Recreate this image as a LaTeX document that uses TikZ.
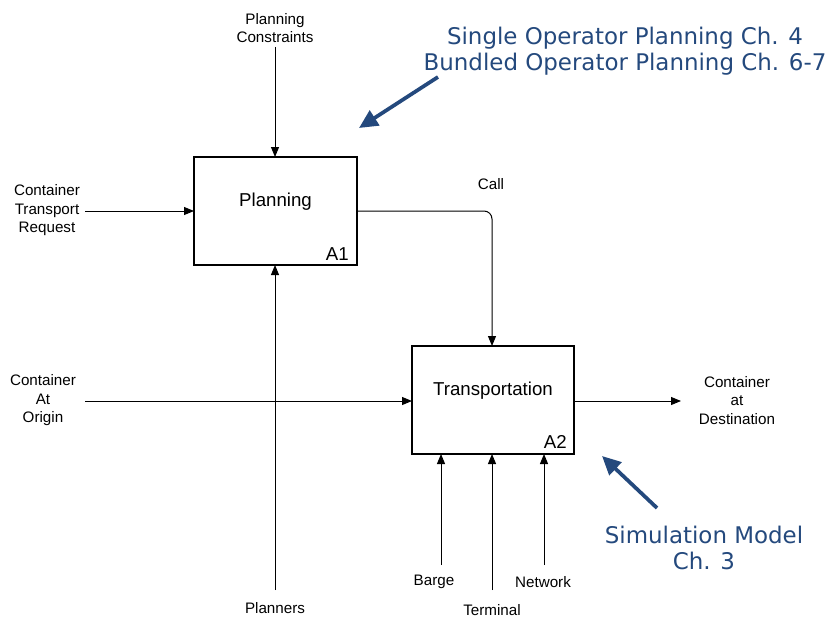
\documentclass[tikz,border=0pt]{standalone}
\usepackage{fontspec}
\setmainfont{Liberation Sans}
\newfontfamily\bluefont{DejaVu Sans}
\usetikzlibrary{arrows.meta}
\definecolor{noteblue}{RGB}{36,73,125}
\begin{document}
\begin{tikzpicture}[x=0.75pt,y=-0.75pt,
  box/.style={draw,line width=0.8pt,inner sep=0pt},
  flow/.style={line width=0.75pt,-{Triangle[length=7.5pt,width=6pt]}},
  lbl/.style={font=\fontsize{11.4}{13.9}\selectfont,align=center,inner sep=0pt},
  title/.style={font=\fontsize{14}{16}\selectfont,inner sep=0pt},
  note/.style={font=\bluefont\fontsize{17.2}{19.5}\selectfont,text=noteblue,align=center,inner sep=0pt},
  notearrow/.style={noteblue,line width=2.8pt,-{Triangle[length=14pt,width=13pt]}}]
\useasboundingbox (0,0) rectangle (830,617);
% boxes
\draw[box] (194,157) rectangle (357,265);
\draw[box] (412,346) rectangle (574,454);
\node[title] (planning) at (275.5,201.5) {Planning};
\node[title] (transp) at (493,390.5) {Transportation};
\node[title,anchor=south east] (a1) at (349,261) {A1};
\node[title,anchor=south east] (a2) at (567,449) {A2};
% labels
\node[lbl] (pc) at (275,28) {Planning\\Constraints};
\node[lbl] (ctr) at (47,210.5) {Container\\Transport\\Request};
\node[lbl] (cao) at (43,400.5) {Container\\At\\Origin};
\node[lbl] (cad) at (737,400.5) {Container\\at\\Destination};
\node[lbl] (call) at (491,184) {Call};
\node[lbl] (planners) at (275,608) {Planners};
\node[lbl] (barge) at (434,582) {Barge};
\node[lbl] (terminal) at (492,610) {Terminal};
\node[lbl] (network) at (543,582) {Network};
% coordinates
\coordinate (pcS) at (275,47);
\coordinate (pcT) at (275,157);
\coordinate (ctrS) at (85,211);
\coordinate (ctrT) at (194,211);
\coordinate (callS) at (357,211);
\coordinate (callC) at (492,211);
\coordinate (callT) at (492,346);
\coordinate (plS) at (275,590);
\coordinate (plT) at (275,265);
\coordinate (caoS) at (85,401);
\coordinate (caoT) at (412,401);
\coordinate (cadS) at (574,401);
\coordinate (cadT) at (681,401);
\coordinate (bS) at (441,565);
\coordinate (bT) at (441,454);
\coordinate (tS) at (492,590);
\coordinate (tT) at (492,454);
\coordinate (nS) at (544,565);
\coordinate (nT) at (544,454);
% flows
\draw[flow] (pcS) -- (pcT);
\draw[flow] (ctrS) -- (ctrT);
\draw[flow,rounded corners=6pt] (callS) -- (callC) -- (callT);
\draw[flow] (plS) -- (plT);
\draw[flow] (caoS) -- (caoT);
\draw[flow] (cadS) -- (cadT);
\draw[flow] (bS) -- (bT);
\draw[flow] (tS) -- (tT);
\draw[flow] (nS) -- (nT);
% notes
\node[note] (n1) at (625,51.5) {Single Operator Planning Ch. 4\\Bundled Operator Planning Ch. 6-7};
\node[note] (n2) at (704,548) {Simulation Model\\Ch. 3};
\coordinate (n1S) at (438,77);
\coordinate (n1T) at (359,128);
\coordinate (n2S) at (657,508);
\coordinate (n2T) at (602,456);
\draw[notearrow] (n1S) -- (n1T);
\draw[notearrow] (n2S) -- (n2T);
\end{tikzpicture}
\end{document}
